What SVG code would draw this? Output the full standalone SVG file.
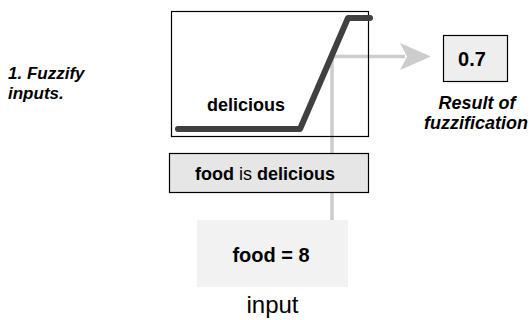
<svg xmlns="http://www.w3.org/2000/svg" width="530" height="320" viewBox="0 0 530 320">
<style>
text{font-family:"Liberation Sans",Arial,sans-serif;fill:#000}
.b{font-weight:bold}
.bi{font-weight:bold;font-style:italic}
.g{stroke:#cccccc;stroke-width:3.5;fill:none}
</style>
<rect width="530" height="320" fill="#fff"/>
<g id="connectors">
<path class="g" d="M332,220 V56.5 H405"/>
<path d="M400,43 L431,56.5 L400,70 L407,56.5 Z" fill="#cccccc"/>
</g>
<g id="plot">
<rect x="171.5" y="11.5" width="197" height="125" fill="none" stroke="#000" stroke-width="1.2"/>
<polyline points="178,129 300,129 348,18 370,18" fill="none" stroke="#404040" stroke-width="6" stroke-linecap="round" stroke-linejoin="round"/>
<text x="207" y="111" class="b" font-size="18">delicious</text>
</g>
<g id="rule">
<rect x="169.5" y="153.5" width="199" height="39" fill="#e6e6e6" stroke="#000" stroke-width="1.2"/>
<text x="265" y="180" font-size="18" text-anchor="middle"><tspan class="b">food</tspan> is <tspan class="b">delicious</tspan></text>
</g>
<g id="input">
<rect x="197" y="220" width="151" height="67" fill="#f2f2f2"/>
<text x="271" y="262" class="b" font-size="20" text-anchor="middle">food = 8</text>
<text x="272.5" y="313" font-size="24" text-anchor="middle">input</text>
</g>
<g id="result">
<rect x="443.5" y="35.5" width="64" height="46" fill="#eeeeee" stroke="#000" stroke-width="1.2"/>
<text x="472" y="66" class="b" font-size="20" text-anchor="middle">0.7</text>
<text x="477" y="109" class="bi" font-size="18" text-anchor="middle">Result of</text>
<text x="476" y="129" class="bi" font-size="18" text-anchor="middle">fuzzification</text>
</g>
<g id="step">
<text x="8" y="79" class="bi" font-size="17">1. Fuzzify</text>
<text x="8" y="99" class="bi" font-size="17">inputs.</text>
</g>
</svg>
